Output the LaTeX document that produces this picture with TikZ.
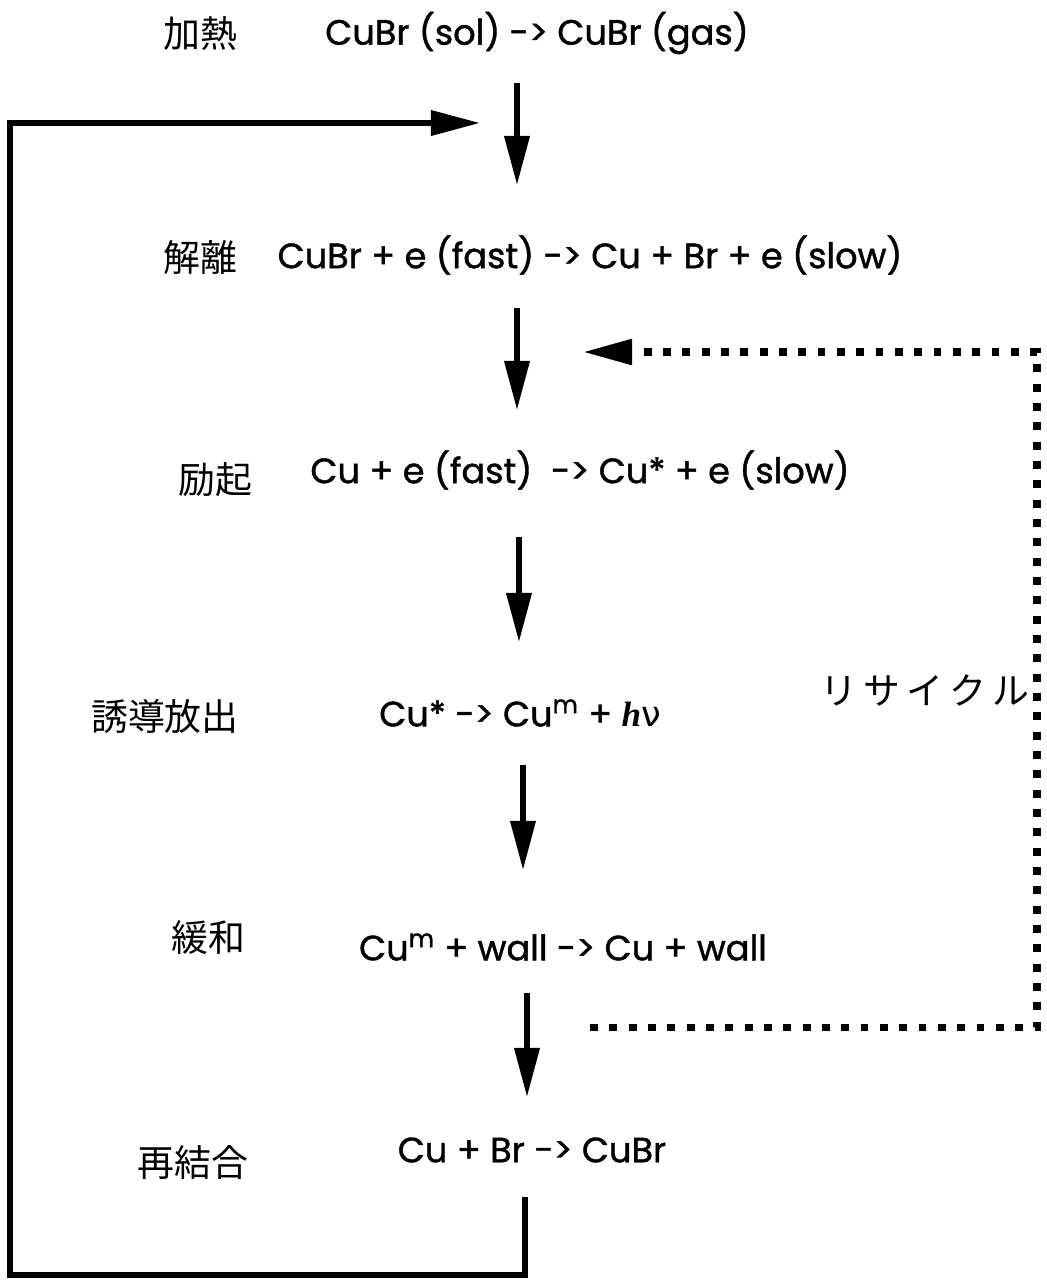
\documentclass[tikz,border=0pt]{standalone}
\usepackage{fontspec}
\setmainfont{Poppins}[FakeBold=1.2]
\newfontfamily\jpfont{Noto Sans CJK JP}
\newfontfamily\planck{Liberation Serif}
\newfontfamily\nufont{DejaVu Sans}
\usetikzlibrary{arrows.meta}

\begin{document}
\begin{tikzpicture}[x=0.02cm, y=-0.02cm,
    eqn/.style={font=\fontsize{20}{24}\selectfont, inner sep=0pt},
    stage/.style={font=\jpfont\fontsize{21}{24}\selectfont, inner sep=0pt},
    flow/.style={line width=3pt, -{Triangle[length=28pt,width=14pt]}},
    recycle/.style={line width=4pt, dash pattern=on 4.5pt off 6.5pt, -{Triangle[length=28pt,width=14pt]}}]
  \useasboundingbox (0,0) rectangle (1047,1286);

  % stages
  \node[stage] (sHeat)  at (200,33)   {加熱};
  \node[stage] (sDiss)  at (200,257)  {解離};
  \node[stage] (sExc)   at (215,480)  {励起};
  \node[stage] (sStim)  at (165,716)  {誘導放出};
  \node[stage] (sRelax) at (208,938)  {緩和};
  \node[stage] (sRec)   at (193,1163) {再結合};

  % reactions
  \node[eqn] (eHeat)  at (537,33)   {CuBr (sol) -> CuBr (gas)};
  \node[eqn] (eDiss)  at (590,255)  {CuBr + e (fast) -> Cu + Br + e (slow)};
  \node[eqn] (eExc)   at (580,470)  {Cu + e (fast)\ \ -> Cu* + e (slow)};
  \node[eqn] (eStim)  at (520,713)  {Cu* -> Cu\textsuperscript{m} + {\planck\bfseries\itshape h}{\nufont ν}};
  \node[eqn] (eRelax) at (563,947)  {Cu\textsuperscript{m} + wall -> Cu + wall};
  \node[eqn] (eRec)   at (532,1150) {Cu + Br -> CuBr};

  \node[stage] (recLabel) at (925,690) {リ\,サ\,イ\,ク\,ル};

  % down arrows
  \coordinate (a1) at (517,83);  \coordinate (b1) at (517,185);
  \coordinate (a2) at (517,308); \coordinate (b2) at (517,410);
  \coordinate (a3) at (519,537); \coordinate (b3) at (519,642);
  \coordinate (a4) at (523,765); \coordinate (b4) at (523,870);
  \coordinate (a5) at (527,993); \coordinate (b5) at (527,1097);
  \foreach \i in {1,...,5}{\draw[flow] (a\i) -- (b\i);}

  % return loop
  \coordinate (loopStart) at (525,1197);
  \coordinate (loopEnd)   at (480,123);
  \draw[flow, line join=miter] (loopStart) -- (525,1275) -- (10,1275) -- (10,123) -- (loopEnd);

  % recycle path
  \coordinate (recStart) at (590,1027);
  \coordinate (recEnd)   at (583,352);
  \draw[recycle] (recStart) -- (1037,1027) -- (1037,352) -- (recEnd);
\end{tikzpicture}
\end{document}
